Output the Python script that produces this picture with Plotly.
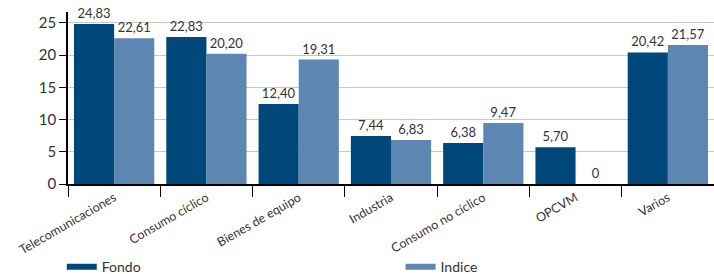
import plotly.graph_objects as go

categories = ["Telecomunicaciones", "Consumo cíclico", "Bienes de equipo", "Industria",
              "Consumo no cíclico", "OPCVM", "Varios"]
fondo = [24.83, 22.83, 12.40, 7.44, 6.38, 5.70, 20.42]
indice = [22.61, 20.20, 19.31, 6.83, 9.47, 0.0, 21.57]
y_ticks = [0, 5, 10, 15, 20, 25]

C_FONDO = "#00477a"
C_INDICE = "#5d87b2"
FONT = "Lato"
TXT = "#333333"


def fmt(v):
    return "0" if v == 0 else f"{v:.2f}".replace(".", ",")


fig = go.Figure()
fig.add_trace(go.Bar(x=categories, y=fondo, name="Fondo", marker_color=C_FONDO,
                     marker_line_width=0,
                     text=[fmt(v) for v in fondo], textposition="outside",
                     textfont=dict(color=TXT, size=13, family=FONT),
                     cliponaxis=False, showlegend=False))
fig.add_trace(go.Bar(x=categories, y=indice, name="Indice", marker_color=C_INDICE,
                     marker_line_width=0,
                     text=[fmt(v) for v in indice], textposition="outside",
                     textfont=dict(color=TXT, size=13, family=FONT),
                     cliponaxis=False, showlegend=False))
# legend entries as wide rectangles
fig.add_trace(go.Scatter(x=[None], y=[None], mode="lines", name="Fondo",
                         line=dict(color=C_FONDO, width=6), legend="legend"))
fig.add_trace(go.Scatter(x=[None], y=[None], mode="lines", name="Indice",
                         line=dict(color=C_INDICE, width=6), legend="legend2"))

leg_common = dict(orientation="h", xanchor="left", yanchor="middle",
                  xref="container", yref="container", y=0.025,
                  font=dict(size=14, color=TXT, family=FONT),
                  bgcolor="rgba(0,0,0,0)", borderwidth=0)

fig.update_layout(
    width=714, height=274,
    margin=dict(l=68, r=0, t=12, b=90),
    plot_bgcolor="white", paper_bgcolor="white",
    barmode="group", bargap=0.13, bargroupgap=0,
    font=dict(family=FONT, size=14, color=TXT),
    legend=dict(x=0.0865, **leg_common),
    legend2=dict(x=0.561, **leg_common),
)
fig.update_xaxes(type="category", range=[-0.5, 6.5], showline=True, linecolor="black",
                 linewidth=1.5, ticks="outside", tickson="boundaries", ticklen=11,
                 tickcolor="black", tickwidth=1.2, tickangle=-30, automargin=False,
                 tickfont=dict(size=12.5, color=TXT, family=FONT), showgrid=False)
fig.update_yaxes(range=[0, 26.7], tickvals=y_ticks, showline=True, linecolor="black",
                 linewidth=1.5, ticks="outside", ticklen=7, tickcolor="black",
                 automargin=False,
                 showgrid=True, gridcolor="#c8c8c8", gridwidth=1, zeroline=False,
                 tickfont=dict(size=15, color=TXT, family=FONT))

fig.write_html("out.html", config={"displayModeBar": False},
               post_script="document.body.style.margin='0';")
